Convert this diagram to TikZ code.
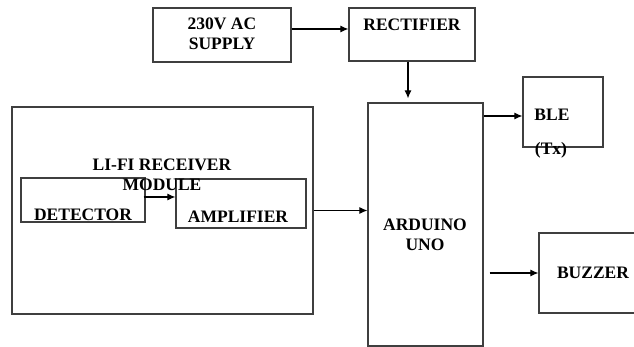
\documentclass[tikz,border=0pt]{standalone}
\usepackage{fontspec}
\setmainfont{Liberation Serif}
\usepackage{xcolor}
\usetikzlibrary{arrows.meta}
\definecolor{boxgray}{HTML}{3F3F3F}

\begin{document}
\begin{tikzpicture}[x=1pt, y=-1pt,
    blk/.style={draw=boxgray, line width=1.2pt, inner sep=0pt},
    lbl/.style={inner sep=0pt, align=center, font=\fontsize{17.5}{19.5}\selectfont\bfseries},
    conn/.style={draw=black, line width=1.1pt, -{Latex[length=8pt, width=7pt]}}]
      \useasboundingbox (0,0) rectangle (634,347);
      % boxes
      \node[blk, minimum width=138pt, minimum height=54pt] (supply) at (222,35) {};
      \node[blk, minimum width=126pt, minimum height=53pt] (rectifier) at (412,34.5) {};
      \node[blk, minimum width=115pt, minimum height=243pt] (arduino) at (425.5,224.5) {};
      \node[blk, minimum width=80pt, minimum height=70pt] (ble) at (563,112) {};
      \node[blk, minimum width=100pt, minimum height=80pt] (buzzer) at (589,273) {};
      \node[blk, minimum width=301pt, minimum height=207pt] (lifi) at (162.5,210.5) {};
      \node[blk, minimum width=124pt, minimum height=44pt] (detector) at (83,200) {};
      \node[blk, minimum width=130pt, minimum height=49pt] (amplifier) at (241,203.5) {};
      % texts
      \node[lbl] (supplytxt) at (222,34) {230V AC\\SUPPLY};
      \node[lbl] (rectifiertxt) at (412,25) {RECTIFIER};
      \node[lbl] (lifitxt) at (162,175) {LI-FI RECEIVER\\MODULE};
      \node[lbl] (detectortxt) at (83,215) {DETECTOR};
      \node[lbl] (amplifiertxt) at (238,217) {AMPLIFIER};
      \node[lbl] (arduinotxt) at (425,235) {ARDUINO\\UNO};
      \node[lbl] (bletxt) at (552,115) {BLE};
      \node[lbl] (txtxt) at (551,150) {(Tx)};
      \node[lbl] (buzzertxt) at (593,273) {BUZZER};
      % connectors
      \draw[conn] ([yshift=6pt]supply.east) -- ([yshift=6pt]supply.east -| rectifier.west);
      \draw[conn, shorten >=4pt] ([xshift=-4pt]rectifier.south) -- ([xshift=-4pt]rectifier.south |- arduino.north);
      \draw[conn] ([yshift=-4pt]arduino.east |- ble.west) -- ([yshift=-4pt]ble.west);
      \draw[conn] (lifi.east) -- (lifi.east -| arduino.west);
      \draw[conn] ([xshift=-2pt, yshift=3pt]detector.east) -- ([yshift=3pt]detector.east -| amplifier.west);
      \draw[conn] ([xshift=6pt]arduino.east |- buzzer.west) -- (buzzer.west);
    \end{tikzpicture}
\end{document}
